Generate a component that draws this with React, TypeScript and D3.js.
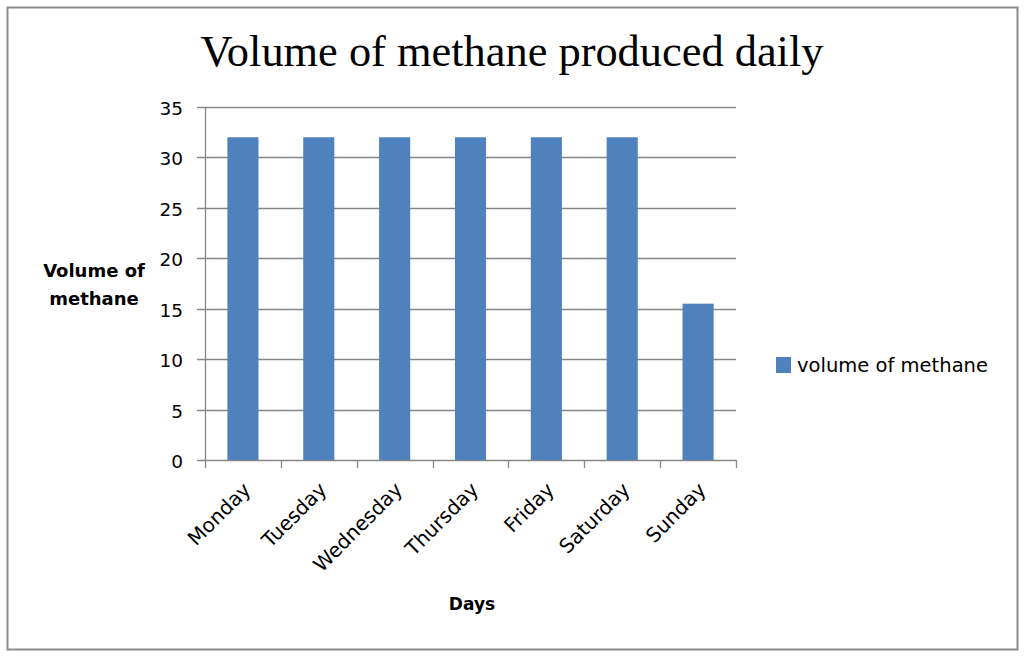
import React, { useEffect, useRef } from 'react';
import * as d3 from 'd3';

const days = ['Monday', 'Tuesday', 'Wednesday', 'Thursday', 'Friday', 'Saturday', 'Sunday'];
const methane = [32, 32, 32, 32, 32, 32, 15.5];
const yTicks = [0, 5, 10, 15, 20, 25, 30, 35];
const seriesName = 'volume of methane';

const W = 1024;
const H = 657;

const App = () => {
  const svgRef = useRef<SVGSVGElement>(null);

  useEffect(() => {
    const svg = d3.select(svgRef.current);
    svg.selectAll('*').remove();

    const left = 205, right = 736, top = 107, bottom = 460;
    const sans = 'Verdana, "DejaVu Sans", sans-serif';

    // outer frame
    svg.append('rect')
      .attr('x', 7.5).attr('y', 7.5)
      .attr('width', 1010).attr('height', 642)
      .attr('fill', '#fff')
      .attr('stroke', '#8a8a8a')
      .attr('stroke-width', 2);

    svg.append('text')
      .attr('x', 512).attr('y', 66)
      .attr('text-anchor', 'middle')
      .style('font-family', '"Liberation Serif", "Times New Roman", serif')
      .style('font-size', '44.4px')
      .style('fill', '#000')
      .text('Volume of methane produced daily');

    const x = d3.scaleBand().domain(days).range([left, right]).paddingInner(0.59).paddingOuter(0.295);
    const xOuter = d3.scaleBand().domain(days).range([left, right]);
    const y = d3.scaleLinear().domain([0, 35]).range([bottom, top]);

    // gridlines
    svg.append('g')
      .selectAll('line')
      .data(yTicks)
      .enter().append('line')
      .attr('x1', left - 8).attr('x2', right)
      .attr('y1', d => Math.round(y(d)) + 0.5)
      .attr('y2', d => Math.round(y(d)) + 0.5)
      .attr('stroke', '#868686')
      .attr('stroke-width', 1.3);

    // y axis line
    svg.append('line')
      .attr('x1', left + 0.5).attr('x2', left + 0.5)
      .attr('y1', top).attr('y2', bottom)
      .attr('stroke', '#868686').attr('stroke-width', 1.3);

    // x ticks
    const xTickPos = days.map(d => xOuter(d) as number).concat([right]);
    svg.append('g')
      .selectAll('line')
      .data(xTickPos)
      .enter().append('line')
      .attr('x1', d => Math.round(d) + 0.5).attr('x2', d => Math.round(d) + 0.5)
      .attr('y1', bottom).attr('y2', bottom + 8)
      .attr('stroke', '#868686').attr('stroke-width', 1.3);

    // bars
    svg.append('g')
      .selectAll('rect')
      .data(methane)
      .enter().append('rect')
      .attr('x', (d, i) => x(days[i]) as number)
      .attr('width', x.bandwidth())
      .attr('y', d => y(d))
      .attr('height', d => y(0) - y(d))
      .attr('fill', '#4f81bd');

    // y tick labels
    svg.append('g')
      .selectAll('text')
      .data(yTicks)
      .enter().append('text')
      .attr('x', 183)
      .attr('y', d => y(d) + 8)
      .attr('text-anchor', 'end')
      .style('font-family', sans)
      .style('font-size', '18.5px')
      .style('fill', '#000')
      .text(d => d);

    // x tick labels
    svg.append('g')
      .selectAll('text')
      .data(days)
      .enter().append('text')
      .attr('transform', d => {
        const cx = (x(d) as number) + x.bandwidth() / 2 + 9;
        return `translate(${cx},${bottom + 31}) rotate(-45)`;
      })
      .attr('text-anchor', 'end')
      .style('font-family', sans)
      .style('font-size', '20px')
      .style('fill', '#000')
      .text(d => d);

    // axis titles
    const yTitle = svg.append('text')
      .attr('text-anchor', 'middle')
      .style('font-family', sans)
      .style('font-size', '18px')
      .style('font-weight', 'bold')
      .style('fill', '#000');
    yTitle.append('tspan').attr('x', 94).attr('y', 277).text('Volume of');
    yTitle.append('tspan').attr('x', 94).attr('y', 305).text('methane');

    svg.append('text')
      .attr('x', 472).attr('y', 610)
      .attr('text-anchor', 'middle')
      .style('font-family', sans)
      .style('font-size', '17px')
      .style('font-weight', 'bold')
      .style('fill', '#000')
      .text('Days');

    // legend
    svg.append('rect')
      .attr('x', 776).attr('y', 357)
      .attr('width', 15).attr('height', 16)
      .attr('fill', '#4f81bd');
    svg.append('text')
      .attr('x', 797).attr('y', 372)
      .style('font-family', sans)
      .style('font-size', '19px')
      .style('fill', '#000')
      .attr('textLength', 191)
      .attr('lengthAdjust', 'spacingAndGlyphs')
      .text(seriesName);
  }, []);

  return (
    <svg ref={svgRef} width={W} height={H}
      style={{ position: 'absolute', left: 0, top: 0, background: '#fff' }} />
  );
};

export default App;
